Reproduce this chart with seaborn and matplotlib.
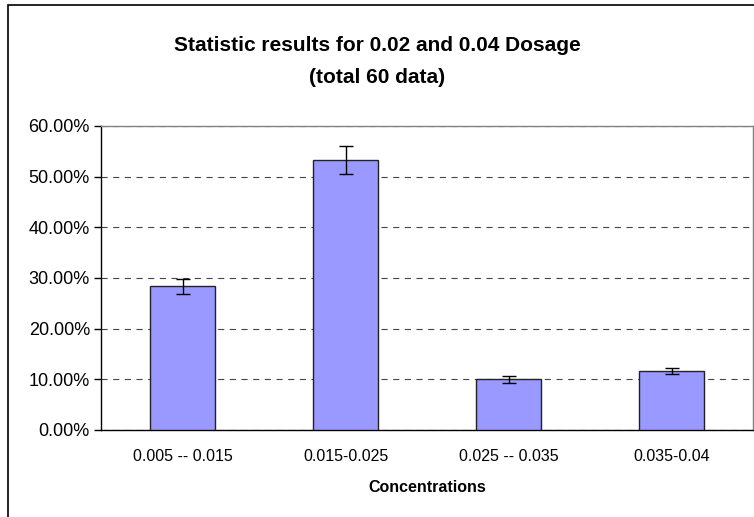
import numpy as np
import matplotlib
matplotlib.use("Agg")
import matplotlib.pyplot as plt
import matplotlib.patches as patches
from matplotlib.ticker import PercentFormatter
import pandas as pd
import seaborn as sns

# data (percent of 60 samples)
categories = ["0.005 -- 0.015", "0.015-0.025", "0.025 -- 0.035", "0.035-0.04"]
percentages = [28.33, 53.33, 10.0, 11.67]
errors = [1.4, 2.8, 0.65, 0.6]
y_ticks = [0, 10, 20, 30, 40, 50, 60]

df = pd.DataFrame({"Concentrations": categories, "Percent": percentages})

sns.set_style("white")
plt.rcParams["font.family"] = ["Liberation Sans", "DejaVu Sans"]
plt.rcParams["text.color"] = "black"
plt.rcParams["xtick.color"] = "black"
plt.rcParams["ytick.color"] = "black"
plt.rcParams["axes.labelcolor"] = "black"
narrow = ["Liberation Sans Narrow", "Liberation Sans", "DejaVu Sans"]

fig = plt.figure(figsize=(7.54, 5.17), dpi=100)
ax = fig.add_axes([101 / 754, 87 / 517, 652 / 754, 304 / 517])

sns.barplot(data=df, x="Concentrations", y="Percent", color="#9999FF",
            edgecolor="#222222", linewidth=1.0, width=0.4, saturation=1,
            errorbar=None, ax=ax, zorder=3)
ax.errorbar(np.arange(len(categories)), percentages, yerr=errors, fmt="none",
            ecolor="black", elinewidth=1.0, capsize=5, capthick=1.0, zorder=4)

ax.set_ylim(0, 60)
ax.set_xlim(-0.5, len(categories) - 0.5)
ax.set_yticks(y_ticks)
ax.yaxis.set_major_formatter(PercentFormatter(xmax=100, decimals=2))
ax.yaxis.grid(True, color="#444444", linestyle=(0, (5.5, 5)), linewidth=0.8)
ax.set_axisbelow(True)

# category boundary ticks on x axis
ax.set_xticks(np.arange(len(categories)))
ax.set_xticklabels(categories, fontsize=11.5)
ax.set_xticks(np.arange(len(categories) + 1) - 0.5, minor=True)
ax.tick_params(axis="x", which="major", length=0, pad=14)
ax.tick_params(axis="x", which="minor", length=5, width=1, color="black", direction="out")
ax.tick_params(axis="y", length=5, width=1, color="black", direction="out", labelsize=13, pad=3)
ax.tick_params(left=True)

for side in ["left", "bottom"]:
    ax.spines[side].set_color("black")
    ax.spines[side].set_linewidth(1.0)
for side in ["top", "right"]:
    ax.spines[side].set_color("#808080")
    ax.spines[side].set_linewidth(1.0)

ax.set_xlabel("Concentrations", fontsize=11.5, fontweight="bold", labelpad=11)
ax.set_ylabel("")
fig.suptitle("Statistic results for 0.02 and 0.04 Dosage\n(total 60 data)",
             x=377 / 754, y=1 - 36 / 517, fontsize=15, fontweight="bold",
             family=narrow, linespacing=1.85, va="top")

# outer chart frame
frame = patches.Rectangle((8 / 754, -0.05), 1.1, 1 - 5 / 517 + 0.05,
                          transform=fig.transFigure, fill=False,
                          edgecolor="black", linewidth=1.2, clip_on=False)
fig.patches.append(frame)

fig.savefig("out.png", dpi=100)
